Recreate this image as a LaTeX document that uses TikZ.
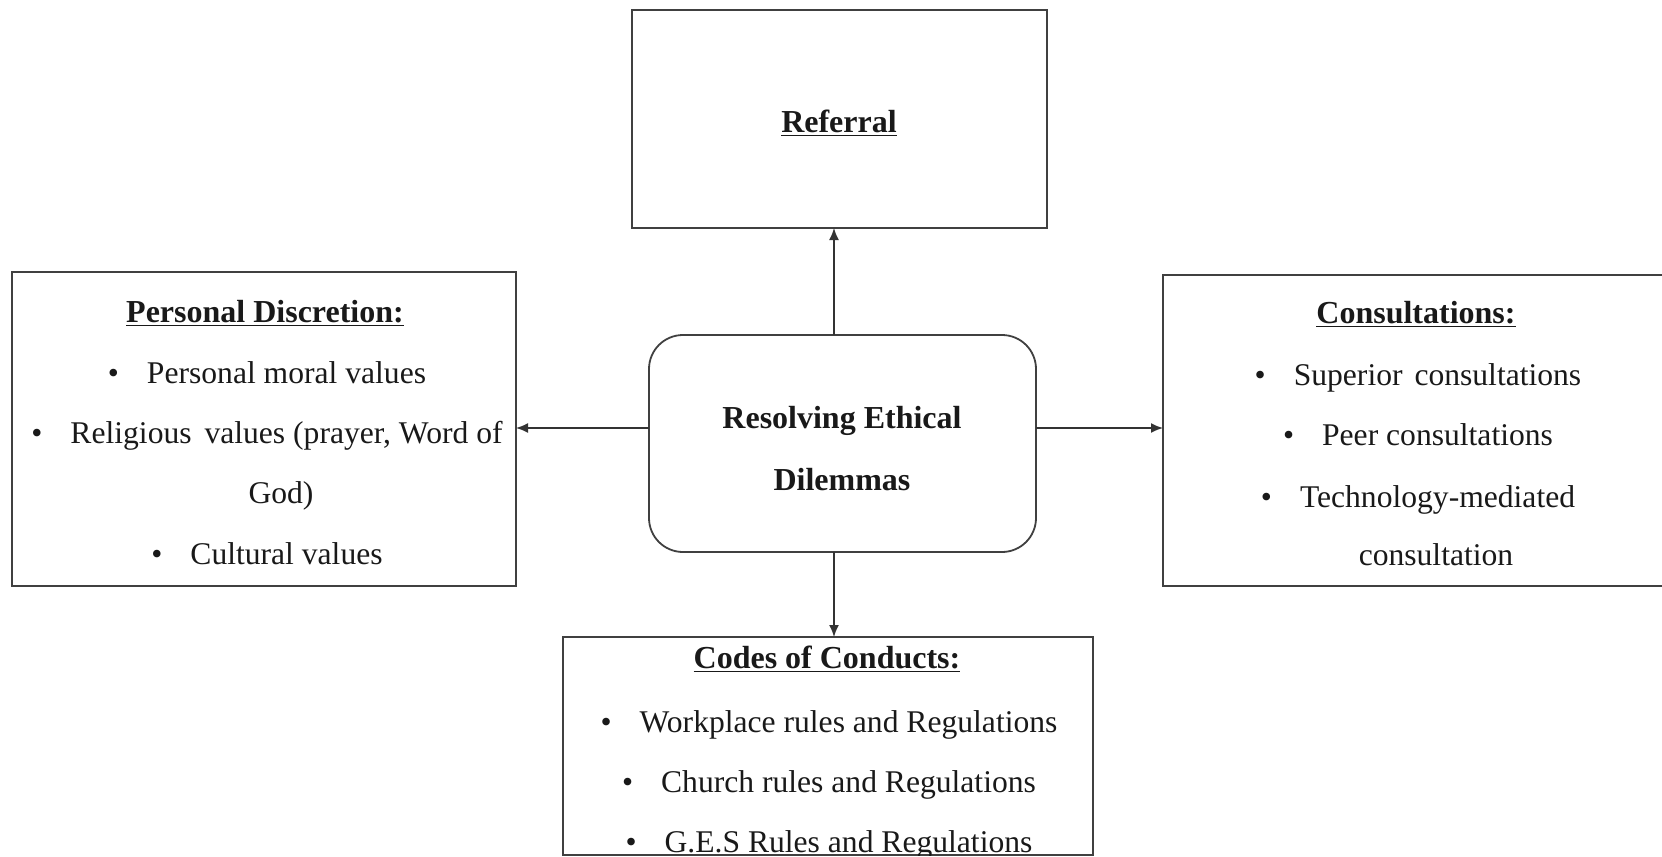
\documentclass[tikz,border=0pt]{standalone}
\usepackage{fontspec}
\setmainfont{Liberation Serif}
\usetikzlibrary{arrows.meta}
\newsavebox\hdbox
\newcommand\hdul[1]{\sbox\hdbox{#1}\rlap{\rule[-2.2pt]{\wd\hdbox}{0.9pt}}\usebox\hdbox}
\newcommand\bl{\textbullet\hspace{14pt}}
\begin{document}
\begin{tikzpicture}[x=0.5pt,y=-0.5pt,
  box/.style={draw=black!75, line width=0.9pt, inner sep=0pt, outer sep=0pt, rectangle},
  txt/.style={anchor=base, inner sep=0pt, font=\fontsize{15.8}{19}\selectfont, text=black!90},
  hd/.style={anchor=base, inner sep=0pt, font=\fontsize{16}{19}\selectfont\bfseries, text=black!90},
  arr/.style={draw=black!80, line width=0.8pt, -{Latex[length=6pt,width=5pt]}}]
\useasboundingbox (0,0) rectangle (1662,857);
\clip (0,0) rectangle (1662,857);

% boxes
\node[box, minimum width=207.5pt, minimum height=109pt] (ref) at (839.5,119) {};
\node[box, rounded corners=17pt, minimum width=193.5pt, minimum height=108.5pt] (c) at (842.5,443.5) {};
\node[box, minimum width=252pt, minimum height=157pt] (pd) at (264,429) {};
\node[box, minimum width=268.5pt, minimum height=155.5pt] (cons) at (1431.5,430.5) {};
\node[box, minimum width=265pt, minimum height=109pt] (cc) at (828,746) {};

% connector guides
\coordinate (ax) at (834,0);
\coordinate (ay) at (0,428);

% connectors
\draw[arr] (c.north -| ax) -- (ref.south -| ax);
\draw[arr] (c.south -| ax) -- (cc.north -| ax);
\draw[arr] (c.west |- ay) -- (pd.east |- ay);
\draw[arr] (c.east |- ay) -- (cons.west |- ay);

% referral
\node[hd] (reft) at (839,132) {\hdul{Referral}};

% central
\node[hd] (c1) at (842,428) {Resolving Ethical};
\node[hd] (c2) at (842,490) {Dilemmas};

% personal discretion
\node[hd] (pdh) at (265,322) {\hdul{Personal Discretion:}};
\node[txt] (pd1) at (267,383) {\bl Personal moral values};
\node[txt] (pd2) at (267,443) {\bl Religious\hspace{2.5pt} values (prayer, Word of};
\node[txt] (pd2b) at (281,503) {God)};
\node[txt] (pd3) at (267,564) {\bl Cultural values};

% consultations
\node[hd] (consh) at (1416,323) {\hdul{Consultations:}};
\node[txt] (cons1) at (1418,385) {\bl Superior\hspace{2pt} consultations};
\node[txt] (cons2) at (1418,445) {\bl Peer consultations};
\node[txt] (cons3) at (1418,507) {\bl Technology-mediated};
\node[txt] (cons3b) at (1436,565) {consultation};

% codes of conduct
\node[hd] (cch) at (827,668) {\hdul{Codes of Conducts:}};
\node[txt] (cc1) at (829,732) {\bl Workplace rules and Regulations};
\node[txt] (cc2) at (829,792) {\bl Church rules and Regulations};
\begin{scope}
\clip (cc.north west) rectangle (cc.south east);
\node[txt] (cc3) at (829,852) {\bl G.E.S Rules and Regulations};
\end{scope}
\end{tikzpicture}
\end{document}
